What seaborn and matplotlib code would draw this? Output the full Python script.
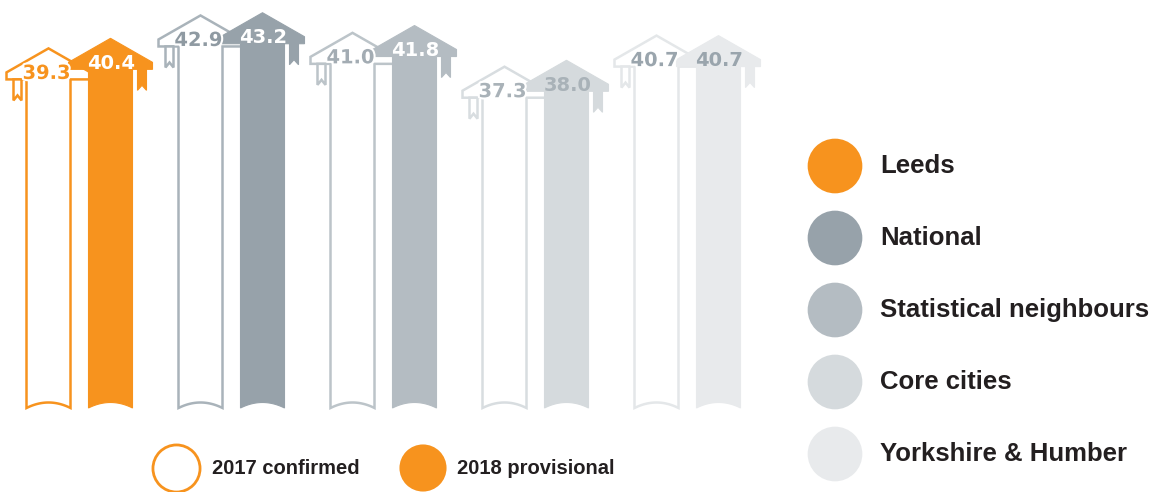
import numpy as np
import matplotlib
matplotlib.use('Agg')
import matplotlib.pyplot as plt
from matplotlib.patches import Polygon
import matplotlib.patheffects as pe
import seaborn as sns

# ---------------- data ----------------
categories = ['Leeds', 'National', 'Statistical neighbours', 'Core cities', 'Yorkshire & Humber']
values_2017 = [39.3, 42.9, 41.0, 37.3, 40.7]
values_2018 = [40.4, 43.2, 41.8, 38.0, 40.7]
series_names = ['2017 confirmed', '2018 provisional']

# ---------------- styles ----------------
fill_colors = ['#F7931E', '#97A2AA', '#B4BCC2', '#D5DADD', '#E8EAEC']
outline_colors = ['#F7931E', '#A9B3BA', '#BCC4C9', '#D8DDE0', '#E4E7E9']
label_2017_colors = ['#F7931E', '#8F9AA2', '#A3ACB3', '#A9B2B8', '#9AA5AD']
label_2018_colors = ['#FFFFFF', '#FFFFFF', '#FFFFFF', '#A9B2B8', '#9AA5AD']
text_dark = '#231F20'

sns.set_theme(style='white')
plt.rcParams['font.family'] = ['Liberation Sans', 'DejaVu Sans']

W, H = 1159, 492
fig = plt.figure(figsize=(W / 100, H / 100), dpi=100)
fig.patch.set_facecolor('white')

ax = fig.add_axes([0, 0, 1, 1])
PX_X = 152.0   # pixels per category group
PX_Y = 9.15    # pixels per value unit
X_ORIGIN = 79.5
BASE = 408
ax.set_xlim(-X_ORIGIN / PX_X, (W - X_ORIGIN) / PX_X)
ax.set_ylim((BASE - H) / PX_Y, BASE / PX_Y)
ax.axis('off')


def dx(p):
    return p / PX_X


def dy(p):
    return p / PX_Y


def arrow(cx, v, face, edge, lw, tassel_side, z):
    w, B = dx(22), dx(42)
    corner = v - dy(24)
    under = corner - dy(7)
    xs = np.linspace(cx + w, cx - w, 30)
    ys = dy(5.5) * (1 - ((xs - cx) / w) ** 2)
    pts = list(zip(xs, ys)) + [(cx - w, under), (cx - B, under), (cx - B, corner),
                               (cx, v), (cx + B, corner), (cx + B, under), (cx + w, under)]
    ax.add_patch(Polygon(pts, closed=True, fc=face, ec=edge, lw=lw,
                         joinstyle='miter', zorder=z))
    if tassel_side > 0:
        x1, x2 = cx + dx(27), cx + dx(36)
    else:
        x1, x2 = cx - dx(35), cx - dx(27)
    bot = corner - dy(28)
    tp = [(x1, under), (x1, bot), ((x1 + x2) / 2, bot + dy(5)), (x2, bot), (x2, under)]
    ax.add_patch(Polygon(tp, closed=True, fc=face, ec=edge, lw=lw,
                         joinstyle='miter', zorder=z))


off = dx(31)
for i, cat in enumerate(categories):
    v1, v2 = values_2017[i], values_2018[i]
    arrow(i - off, v1, 'white', outline_colors[i], 1.8, -1, 2 + i * 2)
    arrow(i + off, v2, fill_colors[i], fill_colors[i], 0.8, 1, 3 + i * 2)
    ax.text(i - off - dx(2), v1 - dy(25), f'{v1:.1f}', ha='center', va='center',
            fontsize=14, fontweight='bold', family=['DejaVu Sans'],
            color=label_2017_colors[i], zorder=20,
            path_effects=[pe.withStroke(linewidth=3, foreground='white')])
    ax.text(i + off + dx(1), v2 - dy(25), f'{v2:.1f}', ha='center', va='center',
            fontsize=14, fontweight='bold', family=['DejaVu Sans'],
            color=label_2018_colors[i], zorder=20)

# ---------------- legends (pixel overlay) ----------------
lax = fig.add_axes([0, 0, 1, 1], zorder=5)
lax.set_xlim(0, W)
lax.set_ylim(H, 0)
lax.axis('off')
lax.patch.set_alpha(0)

leg_y = 166 + 72 * np.arange(len(categories))
sns.scatterplot(x=np.full(len(categories), 835), y=leg_y, hue=categories,
                palette=dict(zip(categories, fill_colors)), s=1550,
                edgecolor='none', legend=False, ax=lax)
for yy, cat in zip(leg_y, categories):
    lax.text(880, yy, cat, fontsize=18.5, fontweight='bold', va='center',
             ha='left', color=text_dark)

sns.scatterplot(x=[176], y=[468], s=1150, color='white', edgecolor=fill_colors[0],
                linewidth=2, legend=False, ax=lax)
sns.scatterplot(x=[423], y=[468], s=1150, color=fill_colors[0], edgecolor='none',
                legend=False, ax=lax)
lax.text(212, 468, series_names[0], fontsize=14.5, fontweight='bold', va='center',
         ha='left', color=text_dark)
lax.text(457, 468, series_names[1], fontsize=14.5, fontweight='bold', va='center',
         ha='left', color=text_dark)
lax.set_xlabel('')
lax.set_ylabel('')

fig.savefig('out.png', dpi=100, facecolor='white')
